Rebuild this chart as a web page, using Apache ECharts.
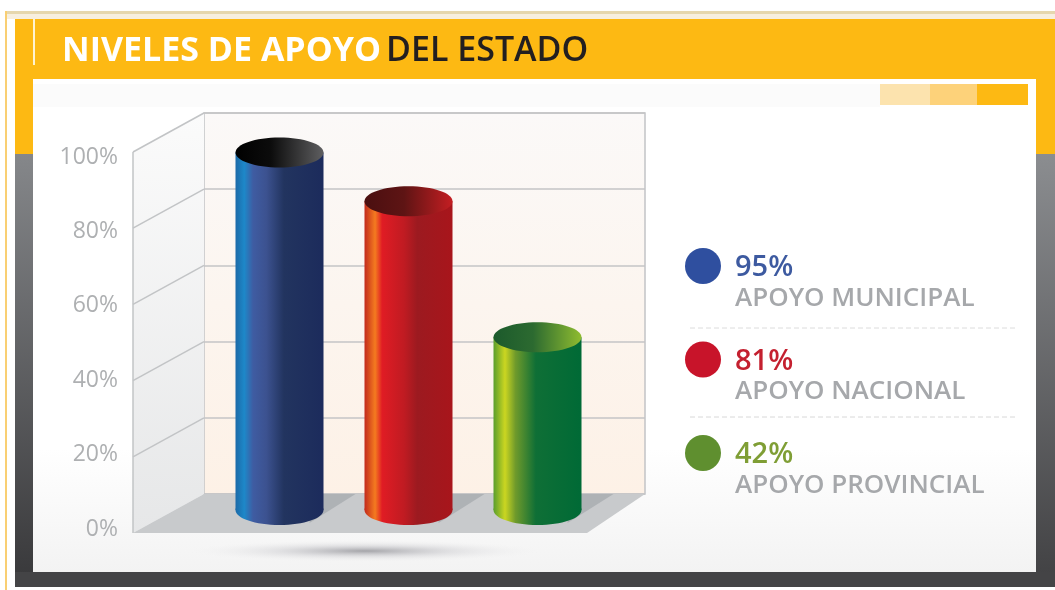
<!DOCTYPE html>
<html>
<head>
<meta charset="utf-8">
<style>
html, body { margin: 0; padding: 0; background: #fff; }
#chart { width: 1055px; height: 590px; }
</style>
<script src="https://cdn.jsdelivr.net/npm/echarts@6/dist/echarts.min.js"></script>
</head>
<body>
<div id="chart"></div>
<script>
// datos
const categories = ['APOYO MUNICIPAL', 'APOYO NACIONAL', 'APOYO PROVINCIAL']
const values = [95, 81, 42]
const ticks = [0, 20, 40, 60, 80, 100]

const valueColors = ['#3d5aa0', '#c4202f', '#7f9e35']
const dotColors = ['#2f4f9f', '#c8142a', '#5f8f2f']

const hGrad = stops => ({
    type: 'linear', x: 0, y: 0, x2: 1, y2: 0,
    colorStops: stops.map(s => ({ offset: s[0], color: s[1] }))
})
const vGrad = stops => ({
    type: 'linear', x: 0, y: 0, x2: 0, y2: 1,
    colorStops: stops.map(s => ({ offset: s[0], color: s[1] }))
})

const bodyFills = [
    hGrad([[0, '#1c6aa8'], [0.1, '#1d88c9'], [0.2, '#3f5ca2'], [0.35, '#3c5290'], [0.55, '#22345f'], [1, '#1c2b5c']]),
    hGrad([[0, '#c22a1c'], [0.12, '#f47b20'], [0.2, '#e01c24'], [0.45, '#c01b22'], [0.6, '#9c1a20'], [1, '#a8151b']]),
    hGrad([[0, '#5a9e2c'], [0.13, '#cbd621'], [0.25, '#6f9a2b'], [0.48, '#0f6f36'], [1, '#006a36']])
]
const topFills = [
    hGrad([[0, '#000'], [0.4, '#0c0c0c'], [1, '#5e5e60']]),
    hGrad([[0, '#4a0f10'], [0.45, '#5e1414'], [1, '#c41e22']]),
    hGrad([[0, '#1c5a2c'], [0.45, '#2c6a30'], [1, '#8fbc30']])
]

// profundidad de la perspectiva: pared de fondo -> borde frontal
const DEPTH_X = 71
const DEPTH_Y = 39
const RX = 44
const RY = 15

const renderWalls = (params, api) => {
    const t = api.value(0)
    const p = api.coord([0, t])
    const children = []
    const lineStyle = { stroke: '#c2c4c6', lineWidth: 1.5 }
    if (t === 0) {
        const top = api.coord([0, 100])
        const right = api.coord([1, 0])
        children.push({
            type: 'polygon', z2: 0,
            shape: { points: [top, [top[0] - DEPTH_X, top[1] + DEPTH_Y], [p[0] - DEPTH_X, p[1] + DEPTH_Y], p] },
            style: { fill: vGrad([[0, '#fbfbfb'], [1, '#e6e7e8']]) }
        }, {
            type: 'polygon', z2: 1,
            shape: { points: [p, right, [right[0] - 58, right[1] + DEPTH_Y], [p[0] - DEPTH_X, p[1] + DEPTH_Y]] },
            style: { fill: '#c8cacc' }
        }, {
            type: 'line', z2: 2,
            shape: { x1: top[0] - DEPTH_X, y1: top[1] + DEPTH_Y, x2: p[0] - DEPTH_X, y2: p[1] + DEPTH_Y },
            style: lineStyle
        })
    }
    if (t !== 0) {
        children.push({
            type: 'line', z2: 2,
            shape: { x1: p[0], y1: p[1], x2: p[0] - DEPTH_X, y2: p[1] + DEPTH_Y },
            style: lineStyle
        })
    }
    return { type: 'group', children }
}

// cilindro: el eje oculto llega por debajo del cero porque la base apoya en el piso
const renderCylinder = (params, api) => {
    const i = api.value(0)
    const top = api.coord([i, api.value(1)])
    const base = api.coord([i, -7.5])
    const cx = top[0]
    return {
        type: 'group',
        children: [
            {
                type: 'polygon',
                shape: { points: [[cx + 30, base[1] + 13], [cx + 76, 494], [cx + 30, 494]] },
                style: { fill: '#a5a9ad', opacity: 0.75 }
            },
            {
                type: 'ellipse',
                shape: { cx, cy: base[1], rx: RX, ry: RY },
                style: { fill: bodyFills[i] }
            },
            {
                type: 'rect',
                shape: { x: cx - RX, y: top[1], width: RX * 2, height: base[1] - top[1] },
                style: { fill: bodyFills[i] }
            },
            {
                type: 'ellipse',
                shape: { cx, cy: top[1], rx: RX, ry: RY },
                style: { fill: topFills[i] }
            }
        ]
    }
}

const panel = [
    { type: 'rect', shape: { x: 5, y: 11, width: 1050, height: 3 }, style: { fill: '#e6d7ae' } },
    { type: 'rect', shape: { x: 7, y: 14, width: 1048, height: 5 }, style: { fill: '#f7efe0' } },
    { type: 'rect', shape: { x: 5, y: 11, width: 2, height: 579 }, style: { fill: '#f9cf73' } },
    { type: 'rect', shape: { x: 15, y: 19, width: 1040, height: 60 }, style: { fill: '#fdb913' } },
    { type: 'rect', shape: { x: 15, y: 79, width: 18, height: 75 }, style: { fill: '#fdb913' } },
    { type: 'rect', shape: { x: 1036, y: 79, width: 19, height: 75 }, style: { fill: '#fdb913' } },
    { type: 'rect', shape: { x: 15, y: 154, width: 18, height: 420 }, style: { fill: vGrad([[0, '#85878a'], [1, '#3a3a3c']]) } },
    { type: 'rect', shape: { x: 1036, y: 154, width: 19, height: 420 }, style: { fill: vGrad([[0, '#8b8d90'], [1, '#434345']]) } },
    { type: 'rect', shape: { x: 15, y: 572, width: 1040, height: 15 }, style: { fill: '#444446' } },
    { type: 'rect', shape: { x: 33, y: 79, width: 1003, height: 493 }, style: { fill: vGrad([[0, '#ffffff'], [0.75, '#ffffff'], [1, '#f3f3f3']]) } },
    { type: 'rect', shape: { x: 33, y: 19, width: 2, height: 46 }, style: { fill: '#fff3d0' } },
    { type: 'rect', shape: { x: 33, y: 84, width: 847, height: 23 }, style: { fill: '#fbfbfb' } },
    { type: 'rect', shape: { x: 880, y: 84, width: 50, height: 21 }, style: { fill: '#fce3ae' } },
    { type: 'rect', shape: { x: 930, y: 84, width: 47, height: 21 }, style: { fill: '#fdd27a' } },
    { type: 'rect', shape: { x: 977, y: 84, width: 51, height: 21 }, style: { fill: '#fdb913' } },
    {
        // el gradiente radial es circular: circulo estirado para la sombra bajo el grafico
        type: 'circle',
        x: 365, y: 551, scaleX: 16,
        shape: { cx: 0, cy: 0, r: 11 },
        style: {
            fill: {
                type: 'radial', x: 0.5, y: 0.5, r: 0.5,
                colorStops: [{ offset: 0, color: 'rgba(150,150,155,0.85)' }, { offset: 0.5, color: 'rgba(190,190,195,0.35)' }, { offset: 1, color: 'rgba(240,240,240,0)' }]
            }
        }
    },
    { type: 'line', shape: { x1: 690, y1: 328, x2: 1018, y2: 328 }, style: { stroke: '#dcdcdc', lineWidth: 1, lineDash: [5, 3] } },
    { type: 'line', shape: { x1: 690, y1: 417, x2: 1018, y2: 417 }, style: { stroke: '#d8d8d8', lineWidth: 1, lineDash: [5, 3] } }
]

const richText = {}
valueColors.forEach((c, i) => {
    richText['v' + i] = { fontFamily: 'Open Sans', fontSize: 29, fontWeight: 600, color: c, lineHeight: 31 }
})
richText.n = { fontFamily: 'Open Sans', fontSize: 26, fontWeight: 600, color: '#a6a8ab', lineHeight: 30 }

const chart = echarts.init(document.getElementById('chart'), null, { renderer: 'canvas' })
chart.setOption({
    backgroundColor: '#fff',
    animation: false,
    title: {
        left: 57,
        top: 29,
        text: '{a|NIVELES DE APOYO} {b|DEL ESTADO}',
        textStyle: {
            rich: {
                a: { fontFamily: 'Open Sans', fontSize: 34, fontWeight: 700, color: '#fff' },
                b: { fontFamily: 'Open Sans', fontSize: 34, fontWeight: 600, color: '#231f20' }
            }
        }
    },
    graphic: { elements: panel.map(e => ({ ...e, z: -10, silent: true })) },
    legend: {
        orient: 'vertical',
        left: 680,
        top: 243,
        itemWidth: 36,
        itemHeight: 36,
        itemGap: 30,
        icon: 'circle',
        selectedMode: false,
        data: categories,
        formatter: name => {
            const i = categories.indexOf(name)
            return '{v' + i + '|' + values[i] + '%}\n{n|' + name + '}'
        },
        textStyle: { rich: richText, padding: [34, 0, 0, 9] }
    },
    grid: [
        {
            left: 204, top: 113, width: 441, height: 381, show: true,
            backgroundColor: vGrad([[0, '#fbf9f8'], [1, '#fdf1e6']]),
            borderColor: '#c2c4c6', borderWidth: 1.5
        },
        { left: 133, top: 157, width: 1, height: 372 },
        // 0 y 100 ajustados a los cilindros, que no siguen del todo la escala del fondo
        { left: 215, top: 135, width: 387, height: 375 }
    ],
    xAxis: [
        { gridIndex: 0, type: 'value', min: 0, max: 1, show: false },
        { gridIndex: 1, type: 'value', min: 0, max: 1, show: false },
        { gridIndex: 2, type: 'category', data: categories, show: false }
    ],
    yAxis: [
        {
            gridIndex: 0, type: 'value', min: 0, max: 100, interval: 20,
            axisLine: { show: false }, axisTick: { show: false }, axisLabel: { show: false },
            splitLine: { show: true, lineStyle: { color: '#c4c5c6', width: 1.5 } }
        },
        {
            gridIndex: 1, type: 'value', min: 0, max: 100, interval: 20,
            axisLine: { show: false }, axisTick: { show: false }, splitLine: { show: false },
            axisLabel: { formatter: '{value}%', margin: 15, color: '#aeb0b2', fontFamily: 'Open Sans', fontSize: 23 }
        },
        { gridIndex: 2, type: 'value', min: -7.5, max: 100, show: false }
    ],
    series: [
        {
            type: 'custom', name: 'walls', xAxisIndex: 0, yAxisIndex: 0, z: 1, silent: true, clip: false,
            renderItem: renderWalls,
            data: ticks.map(t => [t]),
            encode: { y: 0 }
        },
        ...categories.map((name, i) => ({
            type: 'custom', name, xAxisIndex: 2, yAxisIndex: 2, z: 3, clip: false,
            itemStyle: { color: dotColors[i] },
            renderItem: renderCylinder,
            data: [[i, values[i]]],
            encode: { x: 0, y: 1 }
        }))
    ]
})
</script>
</body>
</html>
